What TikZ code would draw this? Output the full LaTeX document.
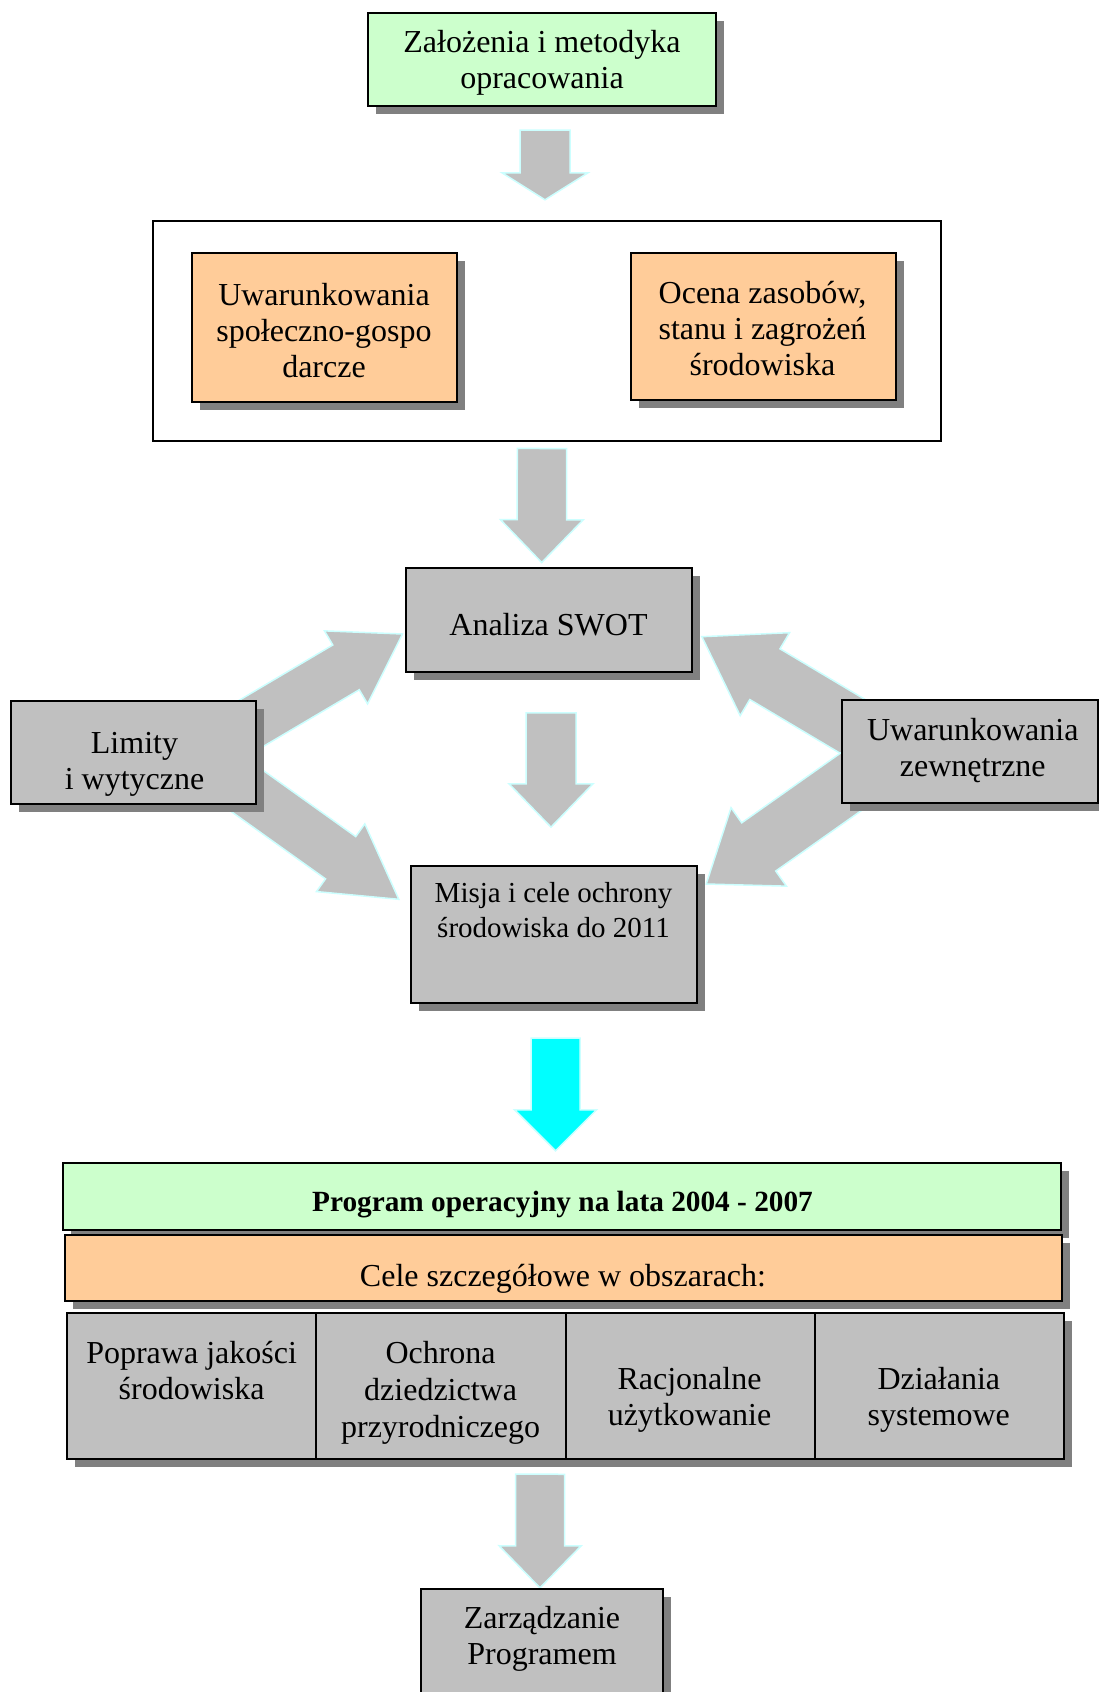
\documentclass[tikz,border=0pt]{standalone}
\usepackage{fontspec}
\setmainfont{Liberation Serif}
\usetikzlibrary{calc}
\definecolor{greenfill}{RGB}{204,255,204}
\definecolor{orangefill}{RGB}{255,204,153}
\definecolor{grayfill}{RGB}{192,192,192}
\definecolor{shadowgray}{RGB}{128,128,128}
\definecolor{arrowedge}{RGB}{204,255,255}
\definecolor{cyanfill}{RGB}{0,255,255}
\newcommand\ml[1]{\begin{tabular}[t]{@{}c@{}}#1\end{tabular}}
% block arrow: [style]{tail}{tip}{shaft half width}{head half width}{head length}
\newcommand\blockarrow[6][]{%
  \path[barrow,#1]
    ($(#2)!#4!90:(#3)$) --
    ($ ($(#3)!#6!(#2)$) !#4!90:(#3) $) --
    ($ ($(#3)!#6!(#2)$) !#5!90:(#3) $) --
    (#3) --
    ($ ($(#3)!#6!(#2)$) !#5!-90:(#3) $) --
    ($ ($(#3)!#6!(#2)$) !#4!-90:(#3) $) --
    ($(#2)!#4!-90:(#3)$) -- cycle;}
\begin{document}
\begin{tikzpicture}[x=1pt,y=-1pt,
  box/.style={draw=black, line width=2pt, inner sep=0pt, outer sep=0pt},
  shadowed/.style={preaction={fill=shadowgray, draw=none, transform canvas={shift={(8pt,-8pt)}}}},
  txt/.style={inner sep=0pt, anchor=base, font=\fontsize{32}{36}\selectfont},
  barrow/.style={fill=grayfill, draw=arrowedge, line width=1.5pt, line join=miter}]
\useasboundingbox[fill=white] (0,0) rectangle (1099,1692);

% ---------- boxes (positions only, drawn later) ----------
\path
  (542,59.5)     node[minimum width=348, minimum height=93, inner sep=0pt] (zal) {}
  (547,331)      node[minimum width=788, minimum height=220, inner sep=0pt] (frame) {}
  (549,620)      node[minimum width=286, minimum height=104, inner sep=0pt] (swot) {}
  (133.5,752.5)  node[minimum width=245, minimum height=103, inner sep=0pt] (limity) {}
  (970,751.5)    node[minimum width=256, minimum height=103, inner sep=0pt] (uz) {}
  (554,934.5)    node[minimum width=286, minimum height=137, inner sep=0pt] (misja) {}
  (562,1196.5)   node[minimum width=998, minimum height=67, inner sep=0pt] (program) {}
  (191.625,1386) node[minimum width=249.25, minimum height=146, inner sep=0pt] (c1) {}
  (440.875,1386) node[minimum width=249.25, minimum height=146, inner sep=0pt] (c2) {}
  (542,1654.5)   node[minimum width=242, minimum height=131, inner sep=0pt] (zarz) {};

% ---------- arrow end points ----------
\coordinate (a1s) at ($(zal.south)+(3,24)$);
\coordinate (a1e) at ($(frame.north)+(-2,-21)$);
\coordinate (a2s) at ($(frame.south)+(-5,7.3)$);
\coordinate (a2e) at ($(swot.north)+(-7.3,-5.3)$);
\coordinate (a3s) at ($(swot.south)+(2,40.7)$);
\coordinate (a3e) at ($(misja.north)+(-3,-38.7)$);
\coordinate (a4s) at ($(misja.south)+(1.5,35)$);
\coordinate (a4e) at ($(program.north)+(-6.5,-12)$);
\coordinate (a5s) at ($(c2.south east)+(-25.5,15)$);
\coordinate (a5e) at ($(zarz.north)+(-2,-1)$);
\coordinate (lus) at ($(limity.center)+(97,-16.9)$);
\coordinate (lue) at ($(swot.west)+(-3.3,14)$);
\coordinate (lls) at ($(limity.center)+(94.6,24.8)$);
\coordinate (lle) at ($(misja.west)+(-12,-35.2)$);
\coordinate (rus) at ($(uz.center)+(-96.3,-12.6)$);
\coordinate (rue) at ($(swot.east)+(9.7,16.7)$);
\coordinate (rls) at ($(uz.center)+(-100.6,17.3)$);
\coordinate (rle) at ($(misja.east)+(9,-50.5)$);

% ---------- block arrows ----------
\blockarrow{a1s}{a1e}{25pt}{43pt}{27pt}
\blockarrow{a2s}{a2e}{24.7pt}{41.3pt}{42.7pt}
\blockarrow{a3s}{a3e}{25pt}{42pt}{43.3pt}
\blockarrow[fill=cyanfill]{a4s}{a4e}{24.5pt}{41pt}{41pt}
\blockarrow{a5s}{a5e}{24.5pt}{41pt}{42pt}
\blockarrow{lus}{lue}{26pt}{42.4pt}{65.6pt}
\blockarrow{lls}{lle}{26pt}{41.6pt}{71.5pt}
\blockarrow{rus}{rue}{29.5pt}{48.3pt}{73.3pt}
\blockarrow{rls}{rle}{29.5pt}{48pt}{64.3pt}

% ---------- visible boxes ----------
\node[box, shadowed, fill=greenfill, minimum width=348, minimum height=93] (zalbox) at (zal) {};
\node[box, minimum width=788, minimum height=220] (framebox) at (frame) {};
\node[box, shadowed, fill=orangefill, minimum width=265, minimum height=148.4] (usg) at (324.2,327.5) {};
\node[box, shadowed, fill=orangefill, minimum width=265.4, minimum height=147] (ocena) at (763.2,326) {};
\node[box, shadowed, fill=grayfill, minimum width=286, minimum height=104] (swotbox) at (swot) {};
\node[box, shadowed, fill=grayfill, minimum width=245, minimum height=103] (limitybox) at (limity) {};
\node[box, shadowed, fill=grayfill, minimum width=256, minimum height=103] (uzbox) at (uz) {};
\node[box, shadowed, fill=grayfill, minimum width=286, minimum height=137] (misjabox) at (misja) {};
\node[box, shadowed, fill=greenfill, minimum width=998, minimum height=67] (programbox) at (program) {};
\node[box, shadowed, fill=orangefill, minimum width=997.5, minimum height=66] (cele) at (563.5,1268) {};
\node[box, shadowed, fill=grayfill, minimum width=249.25, minimum height=146] (c1box) at (c1) {};
\node[box, shadowed, fill=grayfill, minimum width=249.25, minimum height=146] (c2box) at (c2) {};
\node[box, shadowed, fill=grayfill, minimum width=249.25, minimum height=146] (c3) at (690.125,1386) {};
\node[box, shadowed, fill=grayfill, minimum width=249.25, minimum height=146] (c4) at (939.375,1386) {};
\node[box, shadowed, fill=grayfill, minimum width=242, minimum height=131] (zarzbox) at (zarz) {};

% ---------- texts ----------
\node[txt] (zal-t) at (542,52.3) {\ml{Założenia i metodyka\\opracowania}};
\node[txt] (usg-t) at (324,305) {\ml{Uwarunkowania\\społeczno-gospo\\darcze}};
\node[txt] (ocena-t) at (762.5,303.5) {\ml{Ocena zasobów,\\stanu i zagrożeń\\środowiska}};
\node[txt] (swot-t) at (548.5,635) {Analiza SWOT};
\node[txt] (limity-t) at (134.5,753) {\ml{Limity\\i wytyczne}};
\node[txt] (uz-t) at (972.8,740) {\ml{Uwarunkowania\\zewnętrzne}};
\node[txt, font=\fontsize{29}{35.5}\selectfont] (misja-t) at (553.5,902) {\ml{Misja i cele ochrony\\środowiska do 2011}};
\node[txt, font=\fontsize{29.3}{35}\selectfont\bfseries] (program-t) at (562.5,1211.7) {Program operacyjny na lata 2004 - 2007};
\node[txt, font=\fontsize{32}{36}\selectfont] (cele-t) at (563,1286.7) {Cele szczegółowe w obszarach:};
\node[txt] (c1-t) at (191.6,1363.3) {\ml{Poprawa jakości\\środowiska}};
\node[txt, font=\fontsize{32}{37}\selectfont] (c2-t) at (440.6,1363.3) {\ml{Ochrona\\dziedzictwa\\przyrodniczego}};
\node[txt] (c3-t) at (689.5,1389.3) {\ml{Racjonalne\\użytkowanie}};
\node[txt] (c4-t) at (938.8,1389.3) {\ml{Działania\\systemowe}};
\node[txt] (zarz-t) at (542,1628.3) {\ml{Zarządzanie\\Programem}};
\end{tikzpicture}
\end{document}
